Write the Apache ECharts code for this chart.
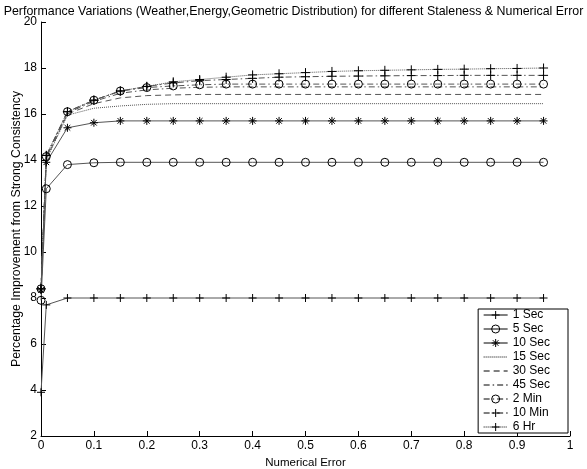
<!DOCTYPE html>
<html><head><meta charset="utf-8">
<script src="https://cdn.jsdelivr.net/npm/echarts@6/dist/echarts.min.js"></script>
<style>html,body{margin:0;padding:0;background:#fff}#c{width:587px;height:469px}</style>
</head><body><div id="c"></div>
<script>
const xs = [0,0.01,0.05,0.1,0.15,0.2,0.25,0.3,0.35,0.4,0.45,0.5,0.55,0.6,0.65,0.7,0.75,0.8,0.85,0.9,0.95];
const names = ['1 Sec','5 Sec','10 Sec','15 Sec','30 Sec','45 Sec','2 Min','10 Min','6 Hr'];
const sec1  = [3.9,7.7,8.0,8.0,8.0,8.0,8.0,8.0,8.0,8.0,8.0,8.0,8.0,8.0,8.0,8.0,8.0,8.0,8.0,8.0,8.0];
const sec5  = [7.9,12.75,13.8,13.88,13.9,13.9,13.9,13.9,13.9,13.9,13.9,13.9,13.9,13.9,13.9,13.9,13.9,13.9,13.9,13.9,13.9];
const sec10 = [8.35,13.9,15.4,15.62,15.7,15.7,15.7,15.7,15.7,15.7,15.7,15.7,15.7,15.7,15.7,15.7,15.7,15.7,15.7,15.7,15.7];
const sec15 = [8.4,14.0,15.95,16.25,16.35,16.42,16.45,16.45,16.45,16.45,16.45,16.45,16.45,16.45,16.45,16.45,16.45,16.45,16.45,16.45,16.45];
const sec30 = [8.4,14.05,16.0,16.45,16.7,16.8,16.83,16.85,16.85,16.85,16.85,16.85,16.85,16.85,16.85,16.85,16.85,16.85,16.85,16.85,16.85];
const sec45 = [8.4,14.1,16.05,16.55,16.9,17.05,17.12,17.16,17.18,17.18,17.18,17.18,17.18,17.18,17.18,17.18,17.18,17.18,17.18,17.18,17.18];
const min2  = [8.4,14.15,16.1,16.6,17.0,17.15,17.22,17.27,17.3,17.3,17.3,17.3,17.3,17.3,17.3,17.3,17.3,17.3,17.3,17.3,17.3];
const min10 = [8.4,14.2,16.1,16.6,17.0,17.2,17.35,17.45,17.5,17.55,17.6,17.62,17.64,17.65,17.66,17.67,17.67,17.68,17.68,17.68,17.68];
const hr6   = [8.4,14.2,16.1,16.6,17.0,17.2,17.4,17.5,17.6,17.7,17.75,17.8,17.85,17.88,17.9,17.92,17.94,17.95,17.97,17.98,18.0];
const xTicks = ['0','0.1','0.2','0.3','0.4','0.5','0.6','0.7','0.8','0.9','1'];

const PLUS = 'path://M0,-5L0,5M-5,0L5,0';
const STAR = 'path://M0,-5L0,5M-5,0L5,0M-3.5,-3.5L3.5,3.5M-3.5,3.5L3.5,-3.5';
const DASHDOT = [6,3,1.5,3];
const FONT = '"Liberation Sans", Arial, sans-serif';
const LC = '#555';
const MARK = { color: 'rgba(0,0,0,0)', borderColor: '#000', borderWidth: 1 };
const NOMARK = { color: 'rgba(0,0,0,0)', borderColor: 'rgba(0,0,0,0)', borderWidth: 0 };

const specs = [
  [sec1, PLUS, 8, 'solid'],
  [sec5, 'circle', 8, 'solid'],
  [sec10, STAR, 8, 'solid'],
  [sec15, 'none', 0, 'dotted'],
  [sec30, 'none', 0, [6,4]],
  [sec45, 'none', 0, DASHDOT],
  [min2, 'circle', 8, DASHDOT],
  [min10, PLUS, 9, DASHDOT],
  [hr6, PLUS, 9, 'dotted']
];

const series = specs.map((s, k) => ({
  name: names[k], type: 'line', data: xs.map((x,i)=>[x, s[0][i]]),
  symbol: s[1], symbolSize: s[2], showSymbol: s[1] !== 'none',
  animation: false,
  itemStyle: s[1] === 'none' ? NOMARK : MARK,
  lineStyle: { color: LC, width: 1, type: s[3] }
}));

const legendData = specs.map((s, k) => ({
  name: names[k],
  itemStyle: s[1] === 'none' ? NOMARK : MARK,
  lineStyle: { color: '#000', width: 1, type: s[3] }
}));

const chart = echarts.init(document.getElementById('c'), null, {renderer:'canvas'});
chart.setOption({
  backgroundColor: '#fff',
  animation: false,
  textStyle: { fontFamily: FONT },
  title: { text: 'Performance Variations (Weather,Energy,Geometric Distribution) for different Staleness & Numerical Error',
    left: 'center', top: 1, textStyle: { fontSize: 12.4, fontWeight: 'normal', color: '#000', fontFamily: FONT } },
  grid: { left: 41, right: 17, top: 22, bottom: 33, containLabel: false, outerBoundsMode: 'none' },
  xAxis: {
    type: 'value', min: 0, max: 1, interval: 0.1,
    name: 'Numerical Error', nameLocation: 'middle', nameGap: 18,
    nameTextStyle: { fontSize: 11.5, color: '#000' },
    axisLine: { show: true, lineStyle: { color: '#000', width: 1 } },
    axisTick: { show: true, inside: true, length: 5, lineStyle: { color: '#000' } },
    axisLabel: { fontSize: 12, color: '#000', margin: 4,
      formatter: v => xTicks[Math.round(v*10)] },
    splitLine: { show: false }
  },
  yAxis: {
    type: 'value', min: 2, max: 20, interval: 2,
    name: 'Percentage Improvement from Strong Consistency', nameLocation: 'middle', nameGap: 18,
    nameMoveOverlap: false,
    nameTextStyle: { fontSize: 12.3, color: '#000' },
    axisLine: { show: true, lineStyle: { color: '#000', width: 1 } },
    axisTick: { show: true, inside: true, length: 5, lineStyle: { color: '#000' } },
    axisLabel: { fontSize: 12, color: '#000', margin: 4 },
    splitLine: { show: false }
  },
  legend: {
    orient: 'vertical', right: 19, top: 309,
    data: legendData,
    itemWidth: 24, itemHeight: 10, itemGap: 2,
    padding: [0, 18, 0, 5],
    backgroundColor: '#fff', borderColor: '#000', borderWidth: 1,
    textStyle: { fontSize: 12, lineHeight: 10, color: '#000', fontFamily: FONT }
  },
  series: series
});
</script></body></html>
